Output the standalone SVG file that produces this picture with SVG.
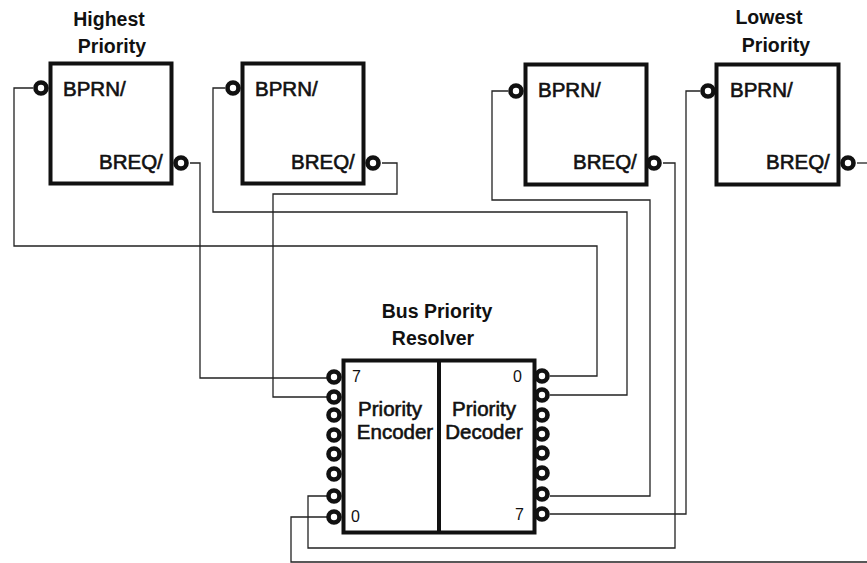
<svg xmlns="http://www.w3.org/2000/svg" width="867" height="563" viewBox="0 0 867 563">
<defs>
<style>
.box{fill:#fff;stroke:#111;stroke-width:4}
.bub{fill:#fff;stroke:#111;stroke-width:4.6}
.w{fill:none;stroke:#222;stroke-width:1.3}
text{font-family:"Liberation Sans",Arial,sans-serif;fill:#111}
.h{font-size:19.5px;font-weight:700;text-anchor:middle;stroke:none}
.l{font-size:20.5px;stroke:#111;stroke-width:.6}
.m{font-size:20.500px;stroke:#111;stroke-width:.6;text-anchor:middle}
.n{font-size:16px}
</style>
<circle id="b" r="5.500" class="bub"/>
</defs>
<rect width="867" height="563" fill="#fff"/>
<g id="connectors">
<path class="w" d="M33 88H14V246H597V376H550"/>
<path class="w" d="M190 163H200V378H327"/>
<path class="w" d="M225 88H213V212H627V395H550"/>
<path class="w" d="M382 163H397V194H273V397H327"/>
<path class="w" d="M508 91H492V200H650V496H550"/>
<path class="w" d="M663 163H675V548H308V496H327"/>
<path class="w" d="M700 91H686V514H550"/>
<path class="w" d="M857 163H867"/>
<path class="w" d="M867 562H291V517H327"/>
</g>
<g id="node-highest">
<text class="h" x="109" y="26">Highest</text>
<text class="h" x="112" y="53">Priority</text>
<rect class="box" x="50.500" y="63.500" width="121" height="120"/>
<use href="#b" x="41" y="88"/><use href="#b" x="181" y="163"/>
<text class="l" x="63" y="96">BPRN/</text>
<text class="l" x="99" y="169">BREQ/</text>
</g>
<g id="node-2">
<rect class="box" x="242.500" y="63.500" width="121" height="120"/>
<use href="#b" x="233" y="88"/><use href="#b" x="373" y="163"/>
<text class="l" x="255" y="96">BPRN/</text>
<text class="l" x="291" y="169">BREQ/</text>
</g>
<g id="node-3">
<rect class="box" x="525.500" y="64.500" width="121" height="120"/>
<use href="#b" x="516" y="91"/><use href="#b" x="654" y="163"/>
<text class="l" x="538" y="97">BPRN/</text>
<text class="l" x="573" y="169">BREQ/</text>
</g>
<g id="node-lowest">
<text class="h" x="769" y="24">Lowest</text>
<text class="h" x="776" y="52">Priority</text>
<rect class="box" x="716.500" y="64.500" width="122" height="120"/>
<use href="#b" x="708" y="91"/><use href="#b" x="848" y="163"/>
<text class="l" x="730" y="97">BPRN/</text>
<text class="l" x="766" y="169">BREQ/</text>
</g>
<g id="node-resolver">
<text class="h" x="437" y="318">Bus Priority</text>
<text class="h" x="433" y="345">Resolver</text>
<rect class="box" x="343.500" y="360.500" width="191" height="172"/>
<path d="M439 360V533" fill="none" stroke="#111" stroke-width="4"/>
<g>
<use href="#b" x="334" y="377"/><use href="#b" x="334" y="397"/><use href="#b" x="334" y="415"/><use href="#b" x="334" y="435"/><use href="#b" x="334" y="454"/><use href="#b" x="334" y="474"/><use href="#b" x="334" y="496"/><use href="#b" x="334" y="517"/>
<use href="#b" x="542" y="376"/><use href="#b" x="542" y="395"/><use href="#b" x="542" y="415"/><use href="#b" x="542" y="434"/><use href="#b" x="542" y="453"/><use href="#b" x="542" y="473"/><use href="#b" x="542" y="494"/><use href="#b" x="542" y="514"/>
</g>
<text class="n" x="352" y="382">7</text>
<text class="n" x="351" y="522">0</text>
<text class="n" x="513" y="382">0</text>
<text class="n" x="515" y="520">7</text>
<text class="m" x="390" y="416">Priority</text>
<text class="m" x="395" y="439">Encoder</text>
<text class="m" x="484" y="416">Priority</text>
<text class="m" x="484" y="439">Decoder</text>
</g>
</svg>
